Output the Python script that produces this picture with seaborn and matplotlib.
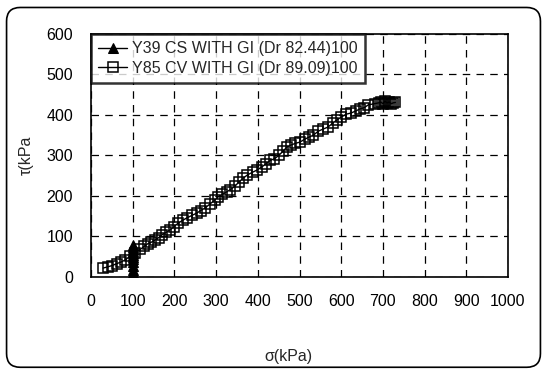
import matplotlib
matplotlib.use("Agg")
import matplotlib.pyplot as plt
from matplotlib.patches import FancyBboxPatch
import seaborn as sns
import pandas as pd

# Y39 CS WITH GI: normal stress held near 100 kPa while shear stress rises
cs_sigma = [100, 100, 100, 100, 100, 100, 100, 100, 100, 100, 100, 100, 100, 100, 100]
cs_tau = [0, 2, 5, 10, 18, 28, 38, 45, 50, 55, 60, 65, 70, 75, 80]

# Y85 CV WITH GI: stress path rising along the failure line
cv_sigma = [29, 40, 50, 62, 72, 82, 94, 106, 118, 128,
            136, 145, 153, 162, 170, 180, 189, 199, 209, 220,
            230, 242, 254, 263, 273, 285, 297, 305, 315, 325,
            333, 345, 355, 365, 375, 388, 398, 410, 420, 430,
            440, 450, 460, 470, 480, 490, 501, 512, 522, 533,
            545, 556, 568, 580, 590, 600, 612, 624, 635, 645,
            655, 665, 680, 690, 695, 700, 705, 710, 715, 720,
            725, 730]
cv_tau = [22, 25, 28, 33, 37, 42, 52, 60, 68, 76,
          82, 86, 91, 97, 104, 110, 116, 124, 133, 140,
          146, 152, 158, 164, 170, 180, 190, 198, 204, 210,
          215, 224, 235, 244, 252, 259, 264, 272, 280, 288,
          292, 300, 310, 321, 326, 330, 333, 340, 345, 350,
          360, 365, 370, 380, 388, 395, 402, 405, 410, 415,
          418, 425, 428, 430, 432, 428, 434, 430, 432, 428,
          430, 431]

series_names = ["Y39 CS WITH GI (Dr 82.44)100", "Y85 CV WITH GI (Dr 89.09)100"]
x_ticks = [0, 100, 200, 300, 400, 500, 600, 700, 800, 900, 1000]
y_ticks = [0, 100, 200, 300, 400, 500, 600]

sns.set_theme(style="white")
plt.rcParams["font.family"] = ["Liberation Sans", "DejaVu Sans"]

fig = plt.figure(figsize=(5.47, 3.74), dpi=100)
ax = fig.add_axes([0.1664, 0.2594, 0.7623, 0.6497])

# rounded frame around the chart area
frame = FancyBboxPatch((0.012, 0.018), 0.976, 0.962,
                       boxstyle="round,pad=0,rounding_size=0.025",
                       transform=fig.transFigure, fill=False,
                       edgecolor="black", linewidth=1.2, mutation_aspect=547 / 374)
fig.patches.append(frame)

df_cs = pd.DataFrame({"sigma": cs_sigma, "tau": cs_tau})
df_cv = pd.DataFrame({"sigma": cv_sigma, "tau": cv_tau})

sns.lineplot(data=df_cs, x="sigma", y="tau", ax=ax, sort=False, estimator=None,
             color="black", linewidth=1.0, marker="^", markersize=7.5,
             markerfacecolor="black", markeredgecolor="black",
             label=series_names[0], zorder=3)
sns.lineplot(data=df_cv, x="sigma", y="tau", ax=ax, sort=False, estimator=None,
             color="black", linewidth=1.0, marker="s", markersize=6.5,
             markerfacecolor="none", markeredgecolor="black", markeredgewidth=1.1,
             label=series_names[1], zorder=3)

ax.set_xlim(0, 1000)
ax.set_ylim(0, 600)
ax.set_xticks(x_ticks)
ax.set_yticks(y_ticks)
ax.set_xticklabels([str(v) for v in x_ticks])
ax.set_yticklabels([str(v) for v in y_ticks])
ax.tick_params(axis="both", length=0, labelsize=11.5, colors="black")
ax.tick_params(axis="x", pad=12)
ax.tick_params(axis="y", pad=13)

ax.grid(True, color="black", linestyle=(0, (6, 5)), linewidth=0.9)
for side in ax.spines.values():
    side.set_color("black")
    side.set_linewidth(1.2)

ax.set_xlabel("")
ax.set_ylabel("")
fig.text(0.527, 0.046, "σ(kPa)", ha="center", va="center", fontsize=11.5)
fig.text(0.048, 0.585, "τ(kPa", ha="center", va="center", fontsize=11.5, rotation=90)

leg = ax.legend(loc="upper left", bbox_to_anchor=(0.0, 1.0), frameon=True,
                fancybox=False, fontsize=11.5, handlelength=1.8, handletextpad=0.3,
                borderpad=0.45, labelspacing=0.3, borderaxespad=0.0)
leg.get_frame().set_edgecolor("black")
leg.get_frame().set_linewidth(1.8)

fig.savefig("out.png", dpi=100)
